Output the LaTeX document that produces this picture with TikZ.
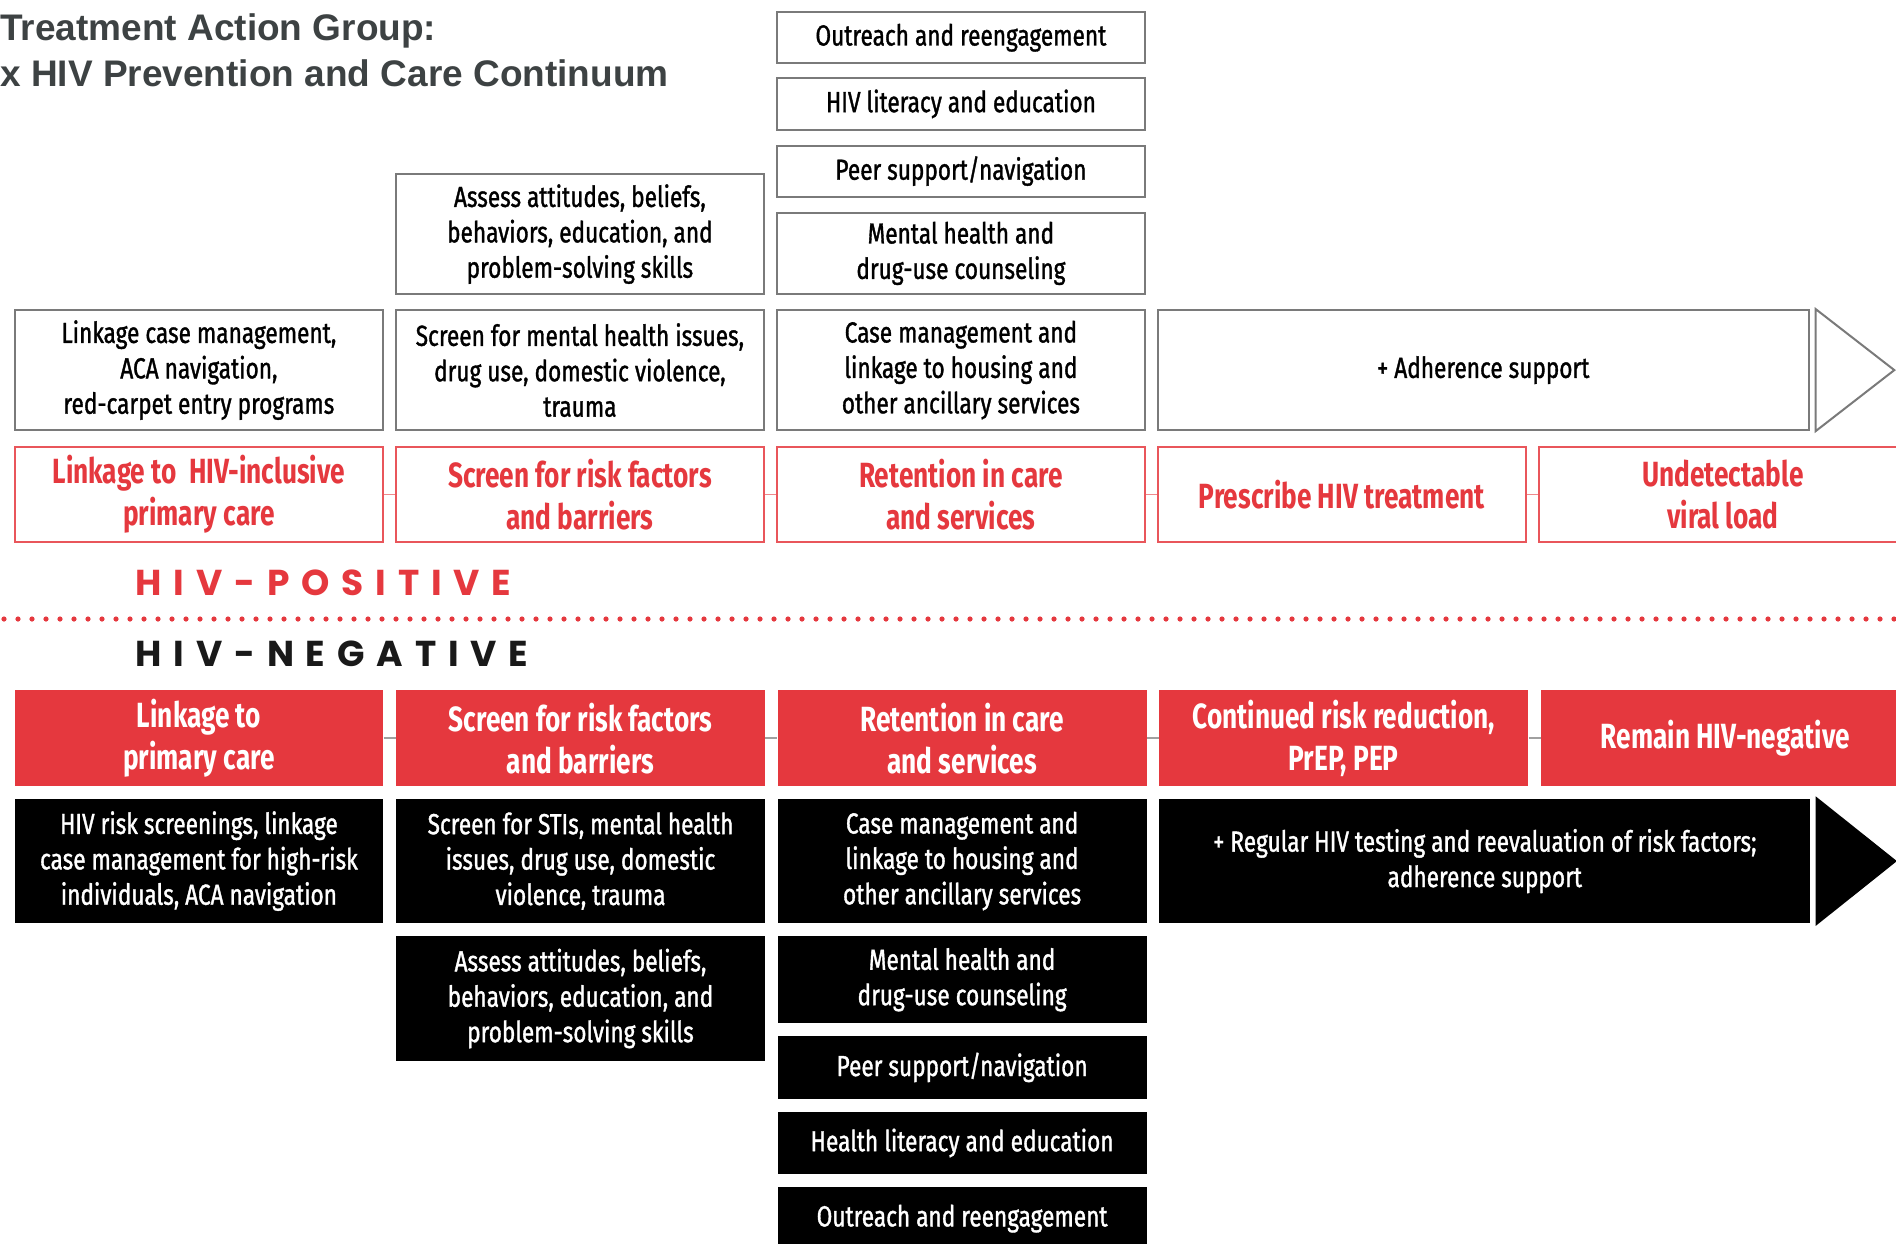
\documentclass[tikz,border=0pt]{standalone}
\usepackage{fontspec}
\usetikzlibrary{positioning}
\newfontfamily\cond[FakeStretch=0.78,FakeBold=1.2]{Fira Sans}
\newfontfamily\condhead[FakeStretch=0.75]{Fira Sans}
\newfontfamily\titlefam{Liberation Sans}
\newfontfamily\bandfam[LetterSpace=33]{Poppins}
\newcommand\cellfont{\cond\fontsize{14.5}{17.7}\selectfont}
\newcommand\stagefont{\condhead\bfseries\fontsize{17.5}{21}\selectfont}
\newcommand\bandfont{\bandfam\bfseries\fontsize{18}{20}\selectfont}
\newcommand\headingfont{\titlefam\bfseries\fontsize{18.5}{23}\selectfont}
\definecolor{stagered}{HTML}{E5383E}
\definecolor{boxgrey}{HTML}{7A7A7A}
\definecolor{linkgrey}{HTML}{A0A0A0}
\definecolor{titlegrey}{HTML}{3D4243}

\begin{document}
\begin{tikzpicture}[x=0.5pt,y=-0.5pt,
  posbox/.style={rectangle,draw=boxgrey,line width=1pt,fill=white,
    minimum width=183.8pt,inner sep=1pt,align=center,font=\cellfont},
  negbox/.style={rectangle,fill=black,text=white,
    minimum width=184.4pt,inner sep=1pt,align=center,font=\cellfont},
  poshead/.style={rectangle,draw=stagered!85,line width=1pt,fill=white,text=stagered,
    minimum width=183.8pt,minimum height=47.4pt,align=center,font=\stagefont},
  neghead/.style={rectangle,fill=stagered,text=white,
    minimum width=184.4pt,minimum height=47.8pt,align=center,font=\stagefont},
  wide/.style={minimum width=325.5pt},
  triple/.style={minimum height=60pt},
  double/.style={minimum height=40.7pt},
  single/.style={minimum height=25.6pt},
  nsingle/.style={minimum height=31.4pt},
  link/.style={draw=linkgrey,line width=0.8pt},
  headtri/.style={line width=1pt,line join=miter},
  band/.style={anchor=west,inner sep=0pt,font=\bandfont},
  divide/.style={draw=stagered,line width=2.6pt,line cap=round,dash pattern=on 0pt off 7pt}]
    \useasboundingbox (0,0) rectangle (1896,1243);
    \clip (0,0) rectangle (1896,1243);
    % Title
    \node[anchor=base west,inner sep=0pt,font=\headingfont,text=titlegrey] (title) at (0,40) {Treatment Action Group:};
    \node[anchor=base west,inner sep=0pt,font=\headingfont,text=titlegrey] (subtitle) at (0,86) {x HIV Prevention and Care Continuum};
    % HIV-positive steps
    \node[poshead] (p1) at (198.9,494.5) {Linkage to\ \ HIV-inclusive\\primary care};
    \node[poshead,right=5.7pt of p1] (p2) {Screen for risk factors\\and barriers};
    \node[poshead,right=5.7pt of p2] (p3) {Retention in care\\and services};
    \node[poshead,right=5.7pt of p3] (p4) {Prescribe HIV treatment};
    \node[poshead,right=5.7pt of p4] (p5) {Undetectable\\viral load};
    \draw[link,draw=stagered!60] (p1) -- (p2);
    \draw[link,draw=stagered!60] (p2) -- (p3);
    \draw[link,draw=stagered!60] (p3) -- (p4);
    \draw[link,draw=stagered!60] (p4) -- (p5);
    % Services above the steps
    \node[posbox,triple,above=7.5pt of p1] (a1) {Linkage case management,\\ACA navigation,\\red-carpet entry programs};
    \node[posbox,triple,above=7.5pt of p2] (a2) {Screen for mental health issues,\\drug use, domestic violence,\\trauma};
    \node[posbox,triple,above=7.5pt of p3] (a3) {Case management and\\linkage to housing and\\other ancillary services};
    \node[posbox,triple,wide,right=5.5pt of a3] (aw) {+ Adherence support};
    \draw[headtri,draw=boxgrey,fill=white] ([xshift=3pt]aw.north east) -- ([xshift=3pt]aw.south east) -- ([xshift=42.3pt]aw.east) -- cycle;
    \node[posbox,triple,above=7pt of a2] (b2) {Assess attitudes, beliefs,\\behaviors, education, and\\problem-solving skills};
    \node[posbox,double,above=7pt of a3] (b3) {Mental health and\\drug-use counseling};
    \node[posbox,single,above=7pt of b3] (c3) {Peer support/navigation};
    \node[posbox,single,above=7pt of c3] (d3) {HIV literacy and education};
    \node[posbox,single,above=6.5pt of d3] (e3) {Outreach and reengagement};
    % Divider
    \node[band,text=stagered] (postag) at (135,583) {HIV-POSITIVE};
    \coordinate (left) at (4,619);
    \coordinate (right) at (1896,619);
    \draw[divide] (left) -- (right);
    \node[band,text=black!90] (negtag) at (135,654) {HIV-NEGATIVE};
    % HIV-negative steps
    \node[neghead] (n1) at (198.9,738.2) {Linkage to\\primary care};
    \node[neghead,right=6pt of n1] (n2) {Screen for risk factors\\and barriers};
    \node[neghead,right=6pt of n2] (n3) {Retention in care\\and services};
    \node[neghead,right=6pt of n3] (n4) {Continued risk reduction,\\PrEP, PEP};
    \node[neghead,right=6pt of n4] (n5) {Remain HIV-negative};
    \draw[link] (n1) -- (n2);
    \draw[link] (n2) -- (n3);
    \draw[link] (n3) -- (n4);
    \draw[link] (n4) -- (n5);
    % Services below the steps
    \node[negbox,triple,minimum height=62.3pt,below=6pt of n1] (s1) {HIV risk screenings, linkage\\case management for high-risk\\individuals, ACA navigation};
    \node[negbox,triple,minimum height=62.3pt,below=6pt of n2] (s2) {Screen for STIs, mental health\\issues, drug use, domestic\\violence, trauma};
    \node[negbox,triple,minimum height=62.3pt,below=6pt of n3] (s3) {Case management and\\linkage to housing and\\other ancillary services};
    \node[negbox,triple,minimum height=62.3pt,wide,right=6pt of s3] (sw) {+ Regular HIV testing and reevaluation of risk factors;\\adherence support};
    \draw[headtri,fill=black] ([xshift=3pt]sw.north east) -- ([xshift=3pt]sw.south east) -- ([xshift=42.3pt]sw.east) -- cycle;
    \node[negbox,triple,minimum height=62.3pt,below=6pt of s2] (t2) {Assess attitudes, beliefs,\\behaviors, education, and\\problem-solving skills};
    \node[negbox,minimum height=43.5pt,below=6pt of s3] (t3) {Mental health and\\drug-use counseling};
    \node[negbox,nsingle,below=6pt of t3] (u3) {Peer support/navigation};
    \node[negbox,nsingle,below=6pt of u3] (v3) {Health literacy and education};
    \node[negbox,nsingle,below=6pt of v3] (w3) {Outreach and reengagement};
\end{tikzpicture}
\end{document}
